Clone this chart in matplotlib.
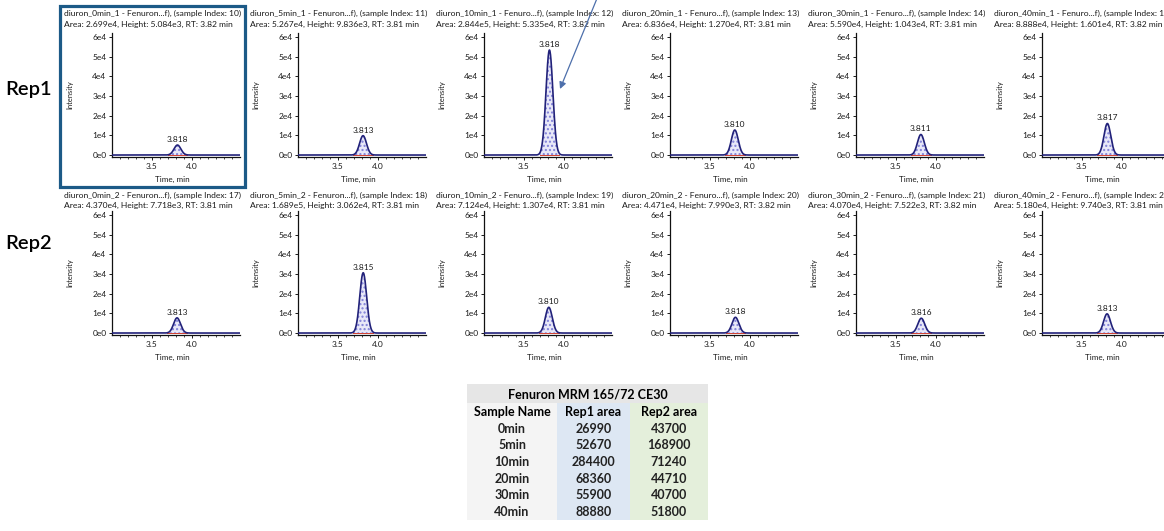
import numpy as np
import matplotlib
matplotlib.use("Agg")
import matplotlib.pyplot as plt
from matplotlib.patches import Rectangle, FancyArrowPatch

# ---- data -------------------------------------------------------------
samples = ["0min", "5min", "10min", "20min", "30min", "40min"]
compound_tag = ["Fenuron...f)", "Fenuron...f)", "Fenuro...f)", "Fenuro...f)", "Fenuro...f)", "Fenuro...f)"]

rep1_index = [10, 11, 12, 13, 14, 15]
rep1_area = [2.699e4, 5.267e4, 2.844e5, 6.836e4, 5.590e4, 8.888e4]
rep1_height = [5.084e3, 9.836e3, 5.335e4, 1.270e4, 1.043e4, 1.601e4]
rep1_rt = [3.818, 3.813, 3.818, 3.810, 3.811, 3.817]
rep1_rt_head = [3.82, 3.81, 3.82, 3.81, 3.81, 3.82]

rep2_index = [17, 18, 19, 20, 21, 22]
rep2_area = [4.370e4, 1.689e5, 7.124e4, 4.471e4, 4.070e4, 5.180e4]
rep2_height = [7.718e3, 3.062e4, 1.307e4, 7.990e3, 7.522e3, 9.740e3]
rep2_rt = [3.813, 3.815, 3.810, 3.818, 3.816, 3.813]
rep2_rt_head = [3.81, 3.81, 3.81, 3.82, 3.82, 3.81]

peak_sigma = 0.043  # chromatographic peak width (min)

y_ticks = [0, 1e4, 2e4, 3e4, 4e4, 5e4, 6e4]
y_tick_labels = ["0e0", "1e4", "2e4", "3e4", "4e4", "5e4", "6e4"]
x_ticks = [3.5, 4.0]
x_tick_labels = ["3.5", "4.0"]

table_title = "Fenuron MRM 165/72 CE30"
table_header = ["Sample Name", "Rep1 area", "Rep2 area"]

# ---- figure -----------------------------------------------------------
W, H = 1164, 531
fig = plt.figure(figsize=(W / 100, H / 100), dpi=100)
fig.patch.set_facecolor("white")

SMALL_FONT = "Lato"
TABLE_FONT = "Lato"
LINE_COL = "#22227a"
TXT_COL = "#1a1a1a"


def fx(x):
    return x / W


def fy(y):
    return 1 - y / H


def add_px_axes(left, top, width, height):
    return fig.add_axes([left / W, 1 - (top + height) / H, width / W, height / H])


def sci(v):
    e = int(np.floor(np.log10(v)))
    return f"{v / 10 ** e:.3f}e{e}"


xgrid = np.linspace(3.0, 4.6, 800)


def draw_panel(col, row_off, head_y, rep, idx, area, height, rt, rt_head):
    x0 = 64 + 186 * col
    # two-line header
    fig.text(fx(x0), fy(head_y[0]),
             f"diuron_{samples[col]}_{rep} - {compound_tag[col]}, (sample Index: {idx})",
             fontsize=6.1, family=SMALL_FONT, va="center", ha="left", color=TXT_COL)
    fig.text(fx(x0), fy(head_y[1]),
             f"Area: {sci(area)}, Height: {sci(height)}, RT: {rt_head:.2f} min",
             fontsize=6.1, family=SMALL_FONT, va="center", ha="left", color=TXT_COL)

    ax = add_px_axes(x0 + 48, 33 + row_off, 128, 124)
    ax.set_xlim(3.0, 4.6)
    ax.set_ylim(-1000, 62000)

    y = height * np.exp(-0.5 * ((xgrid - rt) / peak_sigma) ** 2)
    win = np.abs(xgrid - rt) <= 2.9 * peak_sigma
    ax.fill_between(xgrid[win], 0, y[win], facecolor="#e8e8f8", hatch="....",
                    edgecolor="#8080d8", linewidth=0, zorder=2)
    ax.plot(xgrid[win][[0, -1]], [0, 0], color="#d04030", lw=0.7, zorder=3)
    ax.plot(xgrid, y, color=LINE_COL, lw=1.2, zorder=4)
    ax.annotate(f"{rt:.3f}", xy=(rt, height), xytext=(0, 1.5), textcoords="offset points",
                ha="center", va="bottom", fontsize=6.0, family=SMALL_FONT, color=TXT_COL)

    for s in ["top", "right"]:
        ax.spines[s].set_visible(False)
    for s in ["left", "bottom"]:
        ax.spines[s].set_linewidth(0.9)
        ax.spines[s].set_color("#111111")
    ax.set_yticks(y_ticks)
    ax.set_yticklabels(y_tick_labels)
    ax.set_xticks(x_ticks)
    ax.set_xticklabels(x_tick_labels)
    ax.set_xticks(np.arange(3.1, 4.6, 0.1), minor=True)
    ax.tick_params(axis="both", which="major", length=2.5, width=0.7, pad=1.5,
                   labelsize=6.0, colors=TXT_COL)
    ax.tick_params(axis="x", which="minor", length=1.5, width=0.5)
    for lab in ax.get_xticklabels() + ax.get_yticklabels():
        lab.set_family(SMALL_FONT)
    ax.patch.set_alpha(0)

    ax.text(0.47, -22 / 124, "Time, min", transform=ax.transAxes, ha="center", va="center",
            fontsize=5.8, family=SMALL_FONT, color=TXT_COL)
    ax.text(-42 / 128, 0.5, "Intensity", transform=ax.transAxes, ha="center", va="center",
            rotation=90, fontsize=5.4, family=SMALL_FONT, color=TXT_COL)
    return ax


for c in range(6):
    draw_panel(c, 0, (13, 24), 1, rep1_index[c], rep1_area[c], rep1_height[c],
               rep1_rt[c], rep1_rt_head[c])
    draw_panel(c, 178, (195, 205.5), 2, rep2_index[c], rep2_area[c], rep2_height[c],
               rep2_rt[c], rep2_rt_head[c])

# row labels
fig.text(fx(5), fy(89), "Rep1", fontsize=14.5, family=TABLE_FONT, va="center", ha="left",
         weight="semibold")
fig.text(fx(5), fy(243), "Rep2", fontsize=14.5, family=TABLE_FONT, va="center", ha="left",
         weight="semibold")

# highlight frame around the first chromatogram
fig.patches.append(Rectangle((fx(60), fy(187)), (245 - 60) / W, (187 - 6) / H,
                             transform=fig.transFigure, fill=False,
                             edgecolor="#1c5a87", lw=2.3, zorder=10))

# pointer to the 10 min Rep1 peak
fig.patches.append(FancyArrowPatch((fx(598), fy(-4)), (fx(560), fy(89)),
                                   transform=fig.transFigure, arrowstyle="-|>",
                                   mutation_scale=10, color="#4d6fab", lw=0.9,
                                   shrinkA=0, shrinkB=0, zorder=12))

# ---- summary table ----------------------------------------------------
col_edges = [467, 557, 630, 708]
col_bg = ["#f4f4f4", "#dde7f3", "#e4efdb"]
title_top, title_bot = 384, 403
rows_top = 403
row_h = 16.7
n_rows = len(samples) + 1
table_bot = rows_top + n_rows * row_h

for k in range(3):
    fig.patches.append(Rectangle((fx(col_edges[k]), fy(table_bot)),
                                 (col_edges[k + 1] - col_edges[k]) / W,
                                 (table_bot - rows_top) / H,
                                 transform=fig.transFigure, facecolor=col_bg[k],
                                 edgecolor="none", zorder=1))
fig.patches.append(Rectangle((fx(col_edges[0]), fy(title_bot)),
                             (col_edges[-1] - col_edges[0]) / W, (title_bot - title_top) / H,
                             transform=fig.transFigure, facecolor="#e6e6e6",
                             edgecolor="none", zorder=1))

fig.text(fx((col_edges[0] + col_edges[-1]) / 2), fy((title_top + title_bot) / 2 + 1),
         table_title, fontsize=9, weight="bold", family=TABLE_FONT, ha="center", va="center")

centers = [(col_edges[k] + col_edges[k + 1]) / 2 for k in range(3)]
for k in range(3):
    fig.text(fx(centers[k]), fy(rows_top + row_h / 2 + 1), table_header[k], fontsize=9,
             weight="bold", family=TABLE_FONT, ha="center", va="center")

for r, name in enumerate(samples):
    yc = rows_top + (r + 1.5) * row_h + 0.5
    cells = [name, f"{round(rep1_area[r]):d}", f"{round(rep2_area[r]):d}"]
    for k in range(3):
        fig.text(fx(centers[k]), fy(yc), cells[k], fontsize=9, weight="bold",
                 family=TABLE_FONT, ha="center", va="center", color="#222222")

fig.savefig("out.png", dpi=100, facecolor="white")
